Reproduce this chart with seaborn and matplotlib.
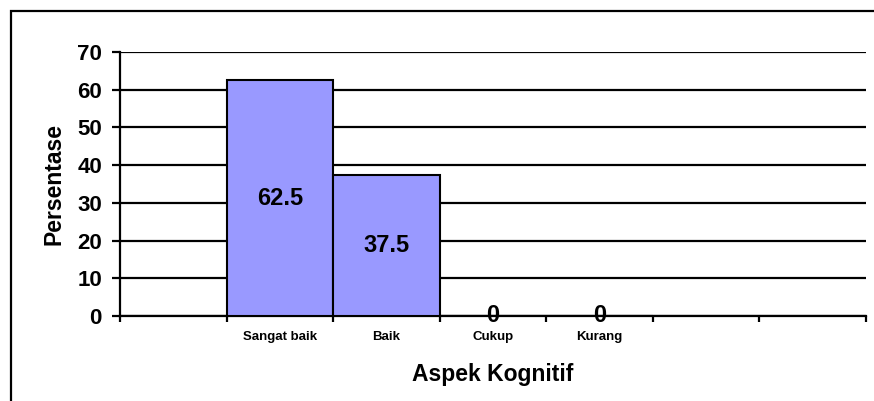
import matplotlib
matplotlib.use("Agg")
import matplotlib.pyplot as plt
import seaborn as sns
import numpy as np
from matplotlib.patches import Rectangle

categories = ["Sangat baik", "Baik", "Cukup", "Kurang"]
values = [62.5, 37.5, 0, 0]
y_ticks = [0, 10, 20, 30, 40, 50, 60, 70]

sns.set_style("white")
plt.rcParams["font.family"] = ["Liberation Sans", "DejaVu Sans"]
plt.rcParams["font.weight"] = "bold"
plt.rcParams["text.color"] = "black"
plt.rcParams["axes.labelcolor"] = "black"
plt.rcParams["xtick.color"] = "black"
plt.rcParams["ytick.color"] = "black"

fig = plt.figure(figsize=(8.74, 4.01), dpi=100)
ax = fig.add_axes([120/874, (401-316)/401, (866-120)/874, (316-52)/401])

sns.barplot(x=categories, y=values, order=categories, width=1.0, color="#9999FF",
            saturation=1, edgecolor="black", linewidth=1.5, ax=ax, zorder=3)

# empty category slots: one before, two after
ax.set_xlim(-1.5, len(categories) + 1.5)
ax.set_ylim(0, 70)
ax.set_yticks(y_ticks)
ax.yaxis.grid(True, color="black", linewidth=1.6, zorder=0)
ax.set_axisbelow(True)

for c in ax.containers:
    ax.bar_label(c, labels=[f"{v:g}" for v in values], label_type="center",
                 fontsize=17, fontweight="bold", color="black")

for s in ["top", "right"]:
    ax.spines[s].set_visible(False)
for s in ["left", "bottom"]:
    ax.spines[s].set_color("black")
    ax.spines[s].set_linewidth(1.6)

ax.tick_params(axis="y", direction="out", length=6, width=1.6, color="black",
               labelcolor="black", labelsize=16, pad=7, left=True)
ax.set_xticks(range(len(categories)))
ax.set_xticklabels(categories, fontsize=9.5, fontweight="bold", color="black")
ax.tick_params(axis="x", which="major", length=0, pad=11)
ax.set_xticks(np.arange(-1.5, len(categories) + 2, 1.0), minor=True)
ax.tick_params(axis="x", which="minor", direction="out", length=4, width=1.6,
               color="black", bottom=True)
for lab in ax.get_yticklabels():
    lab.set_fontweight("bold")

ax.set_xlabel("Aspek Kognitif", fontsize=16.5, fontweight="bold", labelpad=14, color="black")
ax.set_ylabel("Persentase", fontsize=16.5, fontweight="bold", labelpad=8, color="black")

# outer chart frame
fig.patches.append(Rectangle((11/874, -0.1), 1.2, (401-11)/401 + 0.1,
                             transform=fig.transFigure, fill=False,
                             edgecolor="black", linewidth=1.6, clip_on=False))

fig.savefig("out.png", dpi=100)
